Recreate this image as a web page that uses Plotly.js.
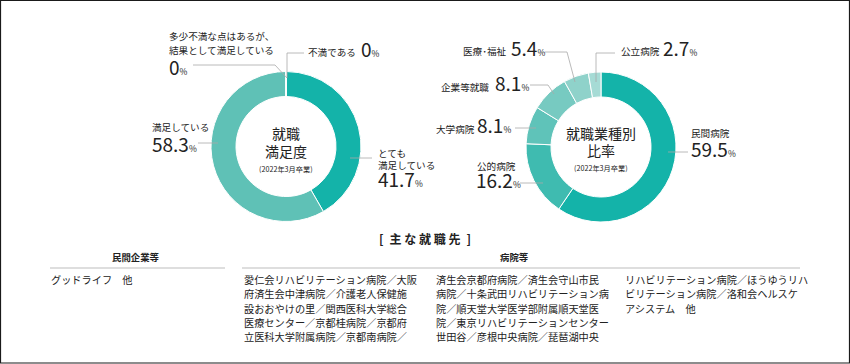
<!DOCTYPE html>
<html>
<head>
<meta charset="utf-8">
<script src="https://cdn.plot.ly/plotly-3.0.1.min.js"></script>
<style>
html,body{margin:0;padding:0;background:#fff;}
#chart{width:850px;height:364px;}
</style>
</head>
<body>
<div id="chart"></div>
<script>
// ---------- data ----------
const satLabels = ['とても満足している', '満足している', '多少不満な点はあるが、結果として満足している', '不満である'];
const satValues = [41.7, 58.3, 0, 0];

const jobLabels = ['民間病院', '公的病院', '大学病院', '企業等就職', '医療･福祉', '公立病院'];
const jobValues = [59.5, 16.2, 8.1, 8.1, 5.4, 2.7];

const satCenter = ['就職', '満足度'];
const jobCenter = ['就職業種別', '比率'];
const yearNote = '(2022年3月卒業)';

const sectionTitle = '主な就職先';
const groupHeaders = ['民間企業等', '病院等'];
const privateEmployers = ['グッドライフ　他'];
const hospitalsCol1 = [
  '愛仁会リハビリテーション病院／大阪',
  '府済生会中津病院／介護老人保健施',
  '設おおやけの里／関西医科大学総合',
  '医療センター／京都桂病院／京都府',
  '立医科大学附属病院／京都南病院／'
];
const hospitalsCol2 = [
  '済生会京都府病院／済生会守山市民',
  '病院／十条武田リハビリテーション病',
  '院／順天堂大学医学部附属順天堂医',
  '院／東京リハビリテーションセンター',
  '世田谷／彦根中央病院／琵琶湖中央'
];
const hospitalsCol3 = [
  'リハビリテーション病院／ほうゆうリハ',
  'ビリテーション病院／洛和会ヘルスケ',
  'アシステム　他'
];

// ---------- layout helpers ----------
const W = 850, H = 364;
const F = '"Noto Sans CJK JP", "Noto Sans", sans-serif';
const TXT = '#222222';
const px = x => x / W;
const py = y => 1 - y / H;

function ann(text, x, y, size, o) {
  o = o || {};
  return {
    xref: 'paper', yref: 'paper', x: px(x), y: py(y),
    xanchor: o.xanchor || 'left', yanchor: 'middle',
    text: text, showarrow: false, borderpad: 0,
    font: {family: F, size: size, color: o.color || TXT, weight: o.weight || 'normal'}
  };
}
function pct(v) {
  return '<span style="font-size:19px">' + v + '</span><span style="font-size:8.5px">%</span>';
}
// number annotations: y given as baseline
function num(v, x, baseline) {
  return ann(pct(v), x, baseline - 8.3, 19);
}
function path(pts, color, width) {
  return {
    type: 'path', xref: 'paper', yref: 'paper',
    path: pts.map((p, i) => (i ? 'L' : 'M') + px(p[0]) + ',' + py(p[1])).join(' '),
    line: {color: color, width: width}
  };
}
function domain(cx, cy, r) {
  return {x: [px(cx - r), px(cx + r)], y: [py(cy + r), py(cy - r)]};
}

// ---------- traces ----------
const satColors = ['#14b3a9', '#5fc1b6', '#9fd9d2', '#c5e8e4'];
const jobColors = ['#14b3a9', '#3fbbb0', '#5fc3b9', '#77cac1', '#8fd2ca', '#a6dbd5'];

const traces = [
  {
    type: 'pie', labels: satLabels, values: satValues, sort: false,
    direction: 'clockwise', rotation: 0, hole: 0.667,
    marker: {colors: satColors, line: {color: '#ffffff', width: 1}},
    textinfo: 'none', hoverinfo: 'label+percent', showlegend: false,
    domain: domain(286, 146.5, 75)
  },
  {
    type: 'pie', labels: jobLabels, values: jobValues, sort: false,
    direction: 'clockwise', rotation: 0, hole: 0.667,
    marker: {colors: jobColors, line: {color: '#ffffff', width: 1}},
    textinfo: 'none', hoverinfo: 'label+percent', showlegend: false,
    domain: domain(601, 147, 75)
  }
];

// ---------- annotations ----------
const L = 9.6;
const annotations = [
  // left donut labels
  ann('多少不満な点はあるが、', 168, 36, L),
  ann('結果として満足している', 168, 50, L),
  num(satValues[2], 168, 75),
  ann(satLabels[3], 307, 52.5, L),
  num(satValues[3], 360, 57),
  ann(satLabels[1], 151, 127, L),
  num(satValues[1], 151, 151.5),
  ann('とても', 377, 153, L),
  ann('満足している', 377, 165, L),
  num(satValues[0], 377, 187),
  // right donut labels
  ann(jobLabels[4], 462, 51.5, L),
  num(jobValues[4], 510, 56),
  ann(jobLabels[5], 620, 51.5, L),
  num(jobValues[5], 662, 56),
  ann(jobLabels[3], 440, 87, L),
  num(jobValues[3], 494, 91),
  ann(jobLabels[2], 435, 129, L),
  num(jobValues[2], 476, 133),
  ann(jobLabels[1], 476, 166, L),
  num(jobValues[1], 475, 188),
  ann(jobLabels[0], 690, 133, L),
  num(jobValues[0], 690, 157),
  // centers
  ann(satCenter[0], 286, 133, 14, {xanchor: 'center'}),
  ann(satCenter[1], 286, 151, 14, {xanchor: 'center'}),
  ann(yearNote, 286, 168.5, 7.2, {xanchor: 'center'}),
  ann(jobCenter[0], 601, 133, 14, {xanchor: 'center'}),
  ann(jobCenter[1], 601, 150, 14, {xanchor: 'center'}),
  ann(yearNote, 601, 168, 7.2, {xanchor: 'center'}),
  // section
  ann('[\u2002' + sectionTitle.split('').join(' ') + '\u2002]', 425, 238, 12, {xanchor: 'center', weight: 'bold', color: '#222'}),
  ann(groupHeaders[0], 135, 257, 9.4, {xanchor: 'center', weight: 'bold', color: '#222'}),
  ann(groupHeaders[1], 514, 257, 9.4, {xanchor: 'center', weight: 'bold', color: '#222'})
];
const rowY = i => 279.3 + i * 14.4;
const LF = 10.2;
privateEmployers.forEach((t, i) => annotations.push(ann(t, 50, rowY(i), LF)));
hospitalsCol1.forEach((t, i) => annotations.push(ann(t, 243, rowY(i), LF)));
hospitalsCol2.forEach((t, i) => annotations.push(ann(t, 435, rowY(i), LF)));
hospitalsCol3.forEach((t, i) => annotations.push(ann(t, 624, rowY(i), LF)));

// ---------- leader lines & rules ----------
const G = '#a8a8a8';
const shapes = [
  path([[193, 65], [275, 65], [287, 78]], G, 0.8),
  path([[304, 53], [287, 53], [287, 78]], G, 0.8),
  path([[198, 143], [218, 143]], G, 0.8),
  path([[350, 158], [372, 158]], G, 0.8),
  path([[615, 53], [596, 53], [596, 82]], G, 0.8),
  path([[545, 52], [567, 52], [575, 82]], G, 0.8),
  path([[530, 85], [548, 85], [554, 94]], G, 0.8),
  path([[515, 128], [536, 128]], G, 0.8),
  path([[520, 183], [543, 183]], G, 0.8),
  path([[668, 152], [688, 152]], G, 0.8),
  path([[50, 268], [225, 268]], '#bdbdbd', 1),
  path([[242, 268], [800, 268]], '#bdbdbd', 1),
  {type: 'rect', xref: 'paper', yref: 'paper', x0: px(0.5), x1: px(849.5), y0: py(363), y1: py(0.5),
   line: {color: '#1a1a1a', width: 1.2}}
];

const layout = {
  width: W, height: H,
  margin: {l: 0, r: 0, t: 0, b: 0, pad: 0},
  paper_bgcolor: '#ffffff', plot_bgcolor: '#ffffff',
  showlegend: false,
  annotations: annotations,
  shapes: shapes,
  font: {family: F, color: TXT}
};

Plotly.newPlot('chart', traces, layout, {displayModeBar: false, staticPlot: true});
</script>
</body>
</html>
